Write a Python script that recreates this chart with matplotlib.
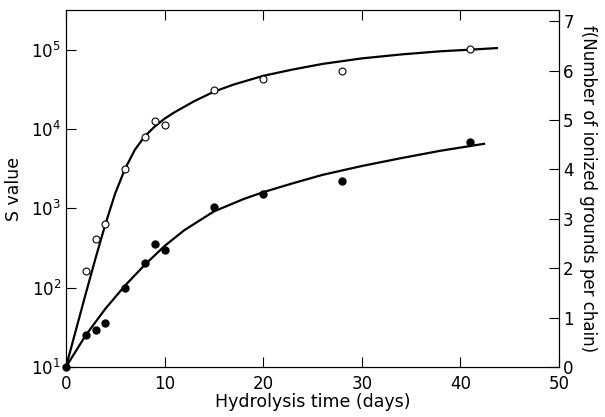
import matplotlib.pyplot as plt
from matplotlib.ticker import LogLocator, NullLocator

# open circles: S value (left, log axis)
t_open = [2, 3, 4, 6, 8, 9, 10, 15, 20, 28, 41]
s_open = [163, 410, 630, 3150, 7900, 12600, 11200, 31000, 43000, 54000, 102000]

# filled circles: f, number of ionized groups per chain (right axis)
t_fill = [0, 2, 3, 4, 6, 8, 9, 10, 15, 20, 28, 41]
f_fill = [0, 0.64, 0.74, 0.90, 1.59, 2.11, 2.49, 2.37, 3.23, 3.51, 3.76, 4.56]

# hand-drawn curves
t_curve_s = [0, 1, 2, 3, 4, 5, 6, 7, 8, 9, 10, 11, 12, 13, 14, 15, 17, 20, 23, 26,
             30, 34, 38, 41, 43.7]
logs_curve = [1.0, 1.46, 1.92, 2.37, 2.80, 3.19, 3.50, 3.74, 3.91, 4.03, 4.13, 4.21,
              4.28, 4.35, 4.41, 4.47, 4.56, 4.67, 4.75, 4.82, 4.89, 4.94, 4.98, 5.00, 5.02]
s_curve = [10 ** v for v in logs_curve]

t_curve_f = [0, 2, 4, 6, 8, 10, 12, 15, 18, 20, 23, 26, 30, 34, 38, 42.4]
f_curve = [0, 0.64, 1.18, 1.65, 2.07, 2.45, 2.77, 3.15, 3.40, 3.54, 3.72, 3.89, 4.07,
           4.23, 4.38, 4.52]

plt.rcParams['font.family'] = 'DejaVu Sans'

fig = plt.figure(figsize=(6.05, 4.17), dpi=100)
ax = fig.add_axes([0.109, 0.12, 0.815, 0.856])
ax2 = ax.twinx()

ax.plot(t_curve_s, s_curve, color='black', lw=1.6)
ax.plot(t_open, s_open, 'o', mfc='white', mec='black', ms=5, mew=0.8, zorder=3)
ax.set_yscale('log')
ax.set_ylim(10, 10 ** 5.5)
ax.set_xlim(0, 50)
ax.yaxis.set_major_locator(LogLocator(base=10, numticks=10))
ax.yaxis.set_minor_locator(NullLocator())
ax.set_xticks([0, 10, 20, 30, 40, 50])

ax2.plot(t_curve_f, f_curve, color='black', lw=1.6)
ax2.plot(t_fill, f_fill, 'o', color='black', ms=5, clip_on=False, zorder=3)
ax2.set_ylim(0, 7.23)
ax2.set_yticks(range(0, 8))

ax.tick_params(axis='x', direction='in', top=True, length=7, labelsize=12, pad=6)
ax.tick_params(axis='y', direction='in', length=7, labelsize=12)
ax2.tick_params(axis='y', direction='in', length=7, labelsize=12, pad=3)

ax.set_xlabel('Hydrolysis time (days)', fontsize=12.5, labelpad=0)
ax.set_ylabel('S value', fontsize=12.5, labelpad=6)
ax2.set_ylabel('f(Number of ionized grounds per chain)', fontsize=12, rotation=270, labelpad=17)

fig.savefig('out.png', dpi=100)
